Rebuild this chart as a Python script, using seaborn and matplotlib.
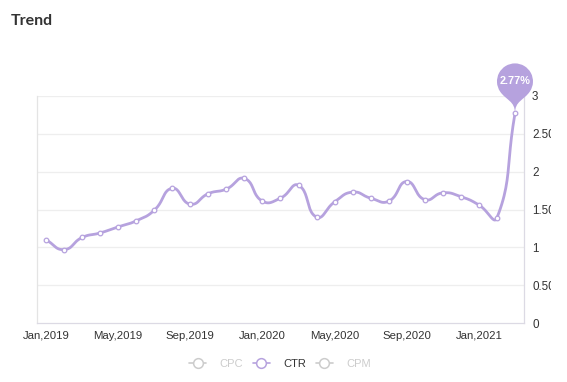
import numpy as np
import pandas as pd
import matplotlib
matplotlib.use("Agg")
import matplotlib.pyplot as plt
import seaborn as sns
from matplotlib.path import Path
from matplotlib.patches import PathPatch, Rectangle
from matplotlib.lines import Line2D
import matplotlib.transforms as mtrans

# ---------------- data ----------------
months = ["Jan,2019", "Feb,2019", "Mar,2019", "Apr,2019", "May,2019", "Jun,2019",
          "Jul,2019", "Aug,2019", "Sep,2019", "Oct,2019", "Nov,2019", "Dec,2019",
          "Jan,2020", "Feb,2020", "Mar,2020", "Apr,2020", "May,2020", "Jun,2020",
          "Jul,2020", "Aug,2020", "Sep,2020", "Oct,2020", "Nov,2020", "Dec,2020",
          "Jan,2021", "Feb,2021", "Mar,2021"]
ctr = [1.10, 0.97, 1.13, 1.19, 1.27, 1.35, 1.49, 1.78, 1.57, 1.71, 1.77, 1.91,
       1.61, 1.65, 1.82, 1.40, 1.60, 1.73, 1.65, 1.61, 1.87, 1.63, 1.72, 1.67,
       1.56, 1.39, 2.77]
legend_labels = ["CPC", "CTR", "CPM"]
y_ticks = [0, 0.5, 1, 1.5, 2, 2.5, 3]
y_tick_labels = ["0", "0.50", "1", "1.50", "2", "2.50", "3"]
tick_every = 4
highlight_label = "2.77%"
title = "Trend"

PURPLE = "#b6a2de"
GREY = "#cccccc"
TEXT = "#333333"
AXIS = "#dcdae4"
GRID = "#eeeeee"

sns.set_theme(style="white")
plt.rcParams["font.family"] = ["Liberation Sans", "DejaVu Sans"]

W, H = 567, 382
fig = plt.figure(figsize=(W / 100, H / 100), dpi=100)
ax = fig.add_axes([37 / W, (H - 323) / H, 487 / W, 227 / H])

def smooth_curve(xs, ys, sx, sy, k=0.5, n=24):
    P = np.column_stack([np.asarray(xs, float) * sx, np.asarray(ys, float) * sy])
    m = len(P)
    cps = []
    for i in range(m):
        prev = P[i - 1] if i > 0 else P[i]
        nxt = P[i + 1] if i < m - 1 else P[i]
        v = (nxt - prev) * k
        d0 = np.linalg.norm(P[i] - prev)
        d1 = np.linalg.norm(P[i] - nxt)
        s = d0 + d1
        if s > 0:
            d0 /= s
            d1 /= s
        cps.append((P[i] - v * d0, P[i] + v * d1))
    t = np.linspace(0, 1, n)[:, None]
    segs = []
    for i in range(m - 1):
        p0, c1, c2, p3 = P[i], cps[i][1], cps[i + 1][0], P[i + 1]
        seg = (1 - t) ** 3 * p0 + 3 * (1 - t) ** 2 * t * c1 + 3 * (1 - t) * t ** 2 * c2 + t ** 3 * p3
        segs.append(seg if i == 0 else seg[1:])
    out = np.vstack(segs)
    return out[:, 0] / sx, out[:, 1] / sy

xi = np.arange(len(ctr))
sxv, syv = smooth_curve(xi, ctr, 18.0, 76.0)
df_line = pd.DataFrame({"x": sxv, "y": syv})
df_pts = pd.DataFrame({"x": xi, "y": ctr})

sns.lineplot(data=df_line, x="x", y="y", sort=False, estimator=None,
             color=PURPLE, linewidth=2, ax=ax, zorder=3)
sns.scatterplot(data=df_pts, x="x", y="y", s=11, color="white",
                edgecolor=PURPLE, linewidth=0.9, ax=ax, zorder=6)

ax.set_xlim(-0.5, len(ctr) - 0.5)
ax.set_ylim(0, 3)

ax.set_yticks(y_ticks)
ax.set_yticklabels(y_tick_labels)
ax.yaxis.tick_right()
ax.tick_params(axis="y", length=0, pad=5.8, labelsize=8.4, labelcolor=TEXT)
for yv in y_ticks[1:]:
    ax.axhline(yv, color=GRID, linewidth=0.9, zorder=1)

ax.set_xticks(xi[::tick_every])
ax.set_xticklabels(months[::tick_every])
ax.tick_params(axis="x", length=3, width=0.8, color=AXIS, pad=2.5,
               labelsize=8.2, labelcolor=TEXT)
ax.set_xlabel("")
ax.set_ylabel("")

for side in ["left", "right", "bottom"]:
    ax.spines[side].set_visible(True)
    ax.spines[side].set_color(AXIS)
    ax.spines[side].set_linewidth(0.9)
ax.spines["left"].set_color("#e4e4e4")
ax.spines["top"].set_visible(False)

# pin marker for last value
r, d = 18.0, 32.0
dy = r * r / d
ang = np.arcsin(dy / r)
dx = r * np.cos(ang)
tanX, tanY = np.sin(ang), np.cos(ang)
cpLen, cpLen2 = 0.6 * r, 0.7 * r
arc = Path.arc(-np.degrees(ang), 180 + np.degrees(ang))
verts = list(arc.vertices * r + np.array([0, d]))
codes = list(arc.codes)
Rp = (dx, d - dy)
verts += [(-dx + tanX * cpLen, d - dy - tanY * cpLen), (0, cpLen2), (0, 0),
          (0, cpLen2), (dx - tanX * cpLen, d - dy - tanY * cpLen), Rp, Rp]
codes += [Path.CURVE4] * 6 + [Path.CLOSEPOLY]
verts = np.array(verts) / 100.0
pin_trans = fig.dpi_scale_trans + mtrans.ScaledTranslation(xi[-1], ctr[-1], ax.transData)
pin = PathPatch(Path(verts, codes), facecolor=PURPLE, edgecolor="none",
                transform=pin_trans, clip_on=False, zorder=5)
ax.add_patch(pin)
ax.text(0, d / 100.0, highlight_label, transform=pin_trans, ha="center", va="center",
        color="white", fontsize=7.8, fontweight="bold", zorder=7, clip_on=False)

# title
fig.text(11 / W, 1 - 21 / H, title, fontsize=11.5, fontweight="bold",
         family=["Lato", "DejaVu Sans"], color=TEXT, ha="left", va="center")

# legend
handles = []
for lab in legend_labels:
    c = PURPLE if lab == "CTR" else GREY
    handles.append(Line2D([], [], color=c, lw=1.2, marker="o", markersize=7,
                          markerfacecolor="white", markeredgecolor=c, markeredgewidth=1.1))
leg = fig.legend(handles, legend_labels, loc="center", bbox_to_anchor=(280 / W, 1 - 364 / H),
                 ncol=3, frameon=False, fontsize=8, handlelength=1.5, handletextpad=1.2,
                 columnspacing=0.9, labelcolor=[GREY, TEXT, GREY])

# the original canvas ends at x=551; labels beyond are cut off
fig.add_artist(Rectangle((551 / W, 0), 1 - 551 / W, 1, transform=fig.transFigure,
                         facecolor="white", edgecolor="none", zorder=20))

fig.savefig("out.png", dpi=100)
